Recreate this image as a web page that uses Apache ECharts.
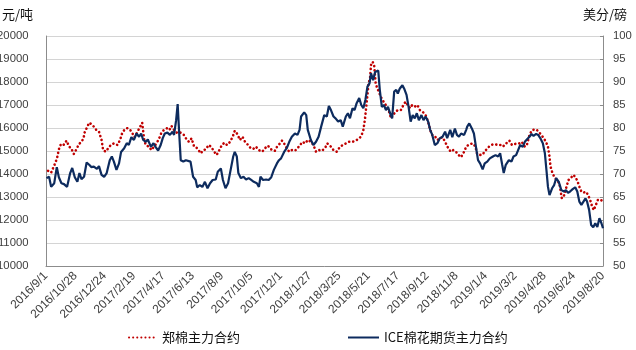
<!DOCTYPE html>
<html>
<head>
<meta charset="utf-8">
<script src="https://cdn.jsdelivr.net/npm/echarts@6/dist/echarts.min.js"></script>
<style>
  html, body { margin: 0; padding: 0; background: #fff; }
  #chart { width: 636px; height: 350px; }
</style>
</head>
<body>
<div id="chart"></div>
<script>
// x positions are day offsets from the first trading date
const startDate = Date.UTC(2016, 8, 1);
const lastDay = 1083;      // 2019/8/20
const labelStepDays = 57;  // spacing of the date labels

// Zhengzhou cotton main contract, yuan/ton (left axis)
const zceDays = [4,10,19,22,25,29,34,40,45,49,54,59,64,69,73,75,79,84,88,93,98,103,108,111,116,121,126,132,139,144,148,153,158,163,168,172,178,183,187,191,194,200,205,210,215,220,224,229,235,240,244,249,254,259,263,268,274,278,283,288,294,301,306,311,316,321,327,332,337,342,347,352,358,363,367,372,377,382,387,393,398,403,408,414,419,424,429,434,439,445,450,455,459,463,468,473,478,484,489,494,499,504,509,515,520,525,531,537,544,547,554,559,565,572,577,583,589,596,602,609,613,617,620,622,624,626,627,630,632,635,638,641,644,647,651,654,659,662,667,671,675,680,684,690,695,699,702,708,712,717,722,727,732,738,743,747,751,756,761,766,771,776,782,787,792,797,802,807,813,817,823,830,835,838,842,848,853,858,863,869,874,879,884,888,892,896,901,906,911,916,920,925,931,935,940,945,948,953,958,963,968,972,976,979,981,984,988,993,998,1003,1008,1012,1016,1020,1025,1029,1033,1037,1041,1045,1050,1054,1058,1062,1065,1069,1073,1077,1081];
const zceYuan = [14140,14060,14530,14750,15070,15300,15260,15450,15190,15120,14870,15070,15300,15400,15550,15800,15990,16230,16170,16060,15910,15840,15480,15040,14970,15120,15260,15330,15260,15480,15770,15940,15990,15940,15770,15600,15840,16060,16230,15480,15260,15190,15040,15190,15330,15550,15770,15910,15990,15910,16090,15910,15800,15840,15770,15700,15480,15400,15550,15190,15120,14900,15040,15070,15260,15190,14970,14830,15040,15260,15360,15260,15400,15620,15880,15740,15480,15620,15400,15260,15120,15090,15190,15040,14970,15040,15220,15190,15040,15010,15220,15330,15450,15330,15120,14970,15040,15010,15120,15260,15400,15330,15480,15400,15260,14970,15040,15010,15190,15330,15190,15040,14970,15190,15260,15330,15400,15400,15450,15550,15650,15910,16350,16780,17220,17650,17940,18160,18740,18880,18740,17940,17730,17580,17360,17220,17070,17000,16710,16420,16570,16710,16780,16780,17000,17140,17070,16860,17000,16930,17000,16780,16710,16570,16270,15910,15700,15650,15480,15550,15600,15400,15120,14970,15040,14970,14830,14730,14970,15190,15290,15330,15190,14900,14830,14830,14970,15120,15220,15290,15290,15260,15260,15190,15260,15360,15450,15260,15300,15330,15330,15400,15190,15260,15700,15910,15990,15940,15840,15700,15550,15400,15190,14750,14320,14100,13880,13740,13600,12940,13090,13450,13740,13810,13960,13880,13710,13450,13230,13190,13230,13090,12870,12580,12430,12650,12870,12900,12840];

// ICE cotton main contract, US cents/lb (right axis)
const iceDays = [1,6,10,16,21,25,30,35,41,47,51,56,61,65,69,74,79,84,88,93,99,103,108,113,118,124,128,132,137,142,146,152,157,161,166,171,176,181,185,189,194,198,204,209,213,218,223,227,231,236,241,246,249,253,256,259,262,267,272,275,281,286,291,294,299,304,309,314,319,324,330,334,340,344,349,354,359,364,367,371,374,379,384,389,394,399,404,410,414,417,422,428,433,438,443,449,453,457,463,468,473,478,484,489,493,496,502,506,509,515,520,525,530,535,541,546,550,554,559,563,568,573,577,583,587,591,596,600,604,609,613,617,621,625,629,632,636,640,643,646,649,653,657,661,665,669,673,677,681,684,688,693,697,701,705,709,713,717,721,725,730,734,738,743,747,751,756,761,766,771,776,780,786,790,795,799,803,807,813,817,819,823,828,832,836,840,844,849,853,858,863,869,874,879,883,887,890,894,900,905,909,914,918,922,927,931,935,940,944,948,953,957,961,966,970,973,976,979,984,988,992,997,1002,1007,1011,1015,1019,1024,1029,1033,1037,1041,1045,1049,1052,1056,1060,1064,1068,1072,1076,1080,1083];
const iceCents = [69.1,69.4,67.2,68.0,71.5,69.3,68.0,67.8,67.2,70.2,71.3,69.3,68.3,70.2,68.9,69.4,72.5,72.0,71.5,71.6,71.1,71.7,69.8,69.4,70.2,73.0,73.8,72.7,70.9,72.3,74.8,75.6,76.7,76.3,78.0,77.4,78.8,78.1,78.8,77.4,77.0,77.5,75.9,76.7,75.9,75.1,76.3,77.8,78.8,79.0,78.5,79.2,78.5,81.7,85.2,78.8,73.0,72.7,73.0,73.0,72.7,69.4,68.7,67.1,67.6,67.2,68.3,66.9,68.0,68.7,68.8,70.5,71.2,68.7,66.9,68.0,70.9,73.8,74.8,73.8,70.2,69.1,69.4,68.8,69.1,68.7,68.3,68.0,67.2,69.4,68.7,68.8,68.7,69.3,70.9,72.3,73.0,73.4,74.8,75.6,77.0,78.1,78.8,78.5,79.6,82.5,83.4,82.8,79.6,77.4,76.3,77.0,78.1,80.3,82.8,82.5,84.8,83.9,82.5,82.1,81.4,81.7,80.3,82.5,83.2,82.1,84.3,83.9,85.4,86.5,85.0,84.3,86.1,89.0,89.7,91.9,90.4,92.2,92.6,92.5,88.3,84.6,85.0,83.9,84.6,83.2,82.1,87.9,88.3,87.5,88.6,89.3,88.4,87.2,84.6,81.4,82.8,82.1,83.2,81.7,82.8,81.7,82.5,81.4,79.6,78.5,76.3,76.7,77.8,78.1,79.2,77.8,79.6,78.0,79.9,78.5,78.1,78.8,78.5,79.6,80.3,81.0,79.9,78.8,75.9,73.0,72.3,71.0,72.3,72.7,73.4,73.8,74.1,73.8,74.5,72.0,70.2,72.0,73.0,72.7,73.8,74.1,75.2,76.3,75.9,77.0,77.5,78.1,78.7,78.3,78.7,78.5,77.8,76.7,74.5,70.9,67.2,65.4,66.9,67.6,69.1,68.3,66.5,66.2,66.5,65.9,66.2,66.7,67.1,66.2,64.0,63.3,64.0,64.7,64.0,62.2,58.9,58.4,59.3,58.5,60.4,59.3,58.2];

const seriesNames = ['郑棉主力合约', 'ICE棉花期货主力合约'];
const axisUnits = ['元/吨', '美分/磅'];

const pair = (xs, ys) => xs.map((x, i) => [x, ys[i]]);

function dayLabel(d) {
  const t = new Date(startDate + d * 86400000);
  return t.getUTCFullYear() + '/' + (t.getUTCMonth() + 1) + '/' + t.getUTCDate();
}

const numFont = '"Liberation Sans", Arial, sans-serif';
const cjkFont = '"Noto Sans CJK SC", "Liberation Sans", sans-serif';
const red = '#c00000';
const navy = '#0d2b5e';

// legend shows only the line sample, no marker
const legendBase = {
  top: 331, padding: 0, itemHeight: 12,
  itemStyle: { opacity: 0 },
  textStyle: { fontSize: 13, color: '#111', fontFamily: cjkFont }
};

const chart = echarts.init(document.getElementById('chart'), null, { renderer: 'canvas' });
chart.setOption({
  animation: false,
  backgroundColor: '#ffffff',
  // fixed plot rectangle; the left value labels are allowed to run off the edge
  grid: { left: 46, right: 33, top: 36, bottom: 84, containLabel: false, outerBoundsMode: 'none' },
  xAxis: {
    type: 'value',
    min: 0,
    max: lastDay,
    interval: labelStepDays,
    axisLine: { show: true, lineStyle: { color: '#8c8c8c', width: 1 } },
    axisTick: { show: false },
    splitLine: { show: false },
    axisLabel: {
      rotate: 45,
      margin: 8,
      formatter: dayLabel,
      color: '#404040',
      fontSize: 12,
      fontFamily: numFont
    }
  },
  yAxis: [
    {
      type: 'value',
      position: 'left',
      min: 10000,
      max: 20000,
      interval: 1000,
      axisLine: { show: true, lineStyle: { color: '#8c8c8c', width: 1 } },
      axisTick: { show: false },
      splitLine: { show: true, lineStyle: { color: '#d4d4d4', width: 1.2 } },
      axisLabel: { margin: 17.5, color: '#404040', fontSize: 11.3, fontFamily: numFont, formatter: v => String(v) }
    },
    {
      type: 'value',
      position: 'right',
      min: 50,
      max: 100,
      interval: 5,
      axisLine: { show: true, lineStyle: { color: '#8c8c8c', width: 1 } },
      axisTick: { show: true, inside: true, length: 3, lineStyle: { color: '#8c8c8c' } },
      splitLine: { show: false },
      axisLabel: { margin: 10, color: '#404040', fontSize: 11.3, fontFamily: numFont, formatter: v => String(v) }
    }
  ],
  legend: [
    Object.assign({ data: [seriesNames[0]], left: 128, itemWidth: 28 }, legendBase),
    Object.assign({ data: [seriesNames[1]], left: 347, itemWidth: 31 }, legendBase)
  ],
  graphic: [
    { type: 'text', x: 2, y: 14, style: { text: axisUnits[0], fill: '#111', font: '13px ' + cjkFont, verticalAlign: 'middle' } },
    { type: 'text', x: 583, y: 14, style: { text: axisUnits[1], fill: '#111', font: '13px ' + cjkFont, verticalAlign: 'middle' } }
  ],
  series: [
    {
      name: seriesNames[0],
      type: 'line',
      yAxisIndex: 0,
      data: pair(zceDays, zceYuan),
      symbol: 'none',
      itemStyle: { color: red },
      lineStyle: { color: red, width: 2.6, type: [0.1, 4], cap: 'round' }
    },
    {
      name: seriesNames[1],
      type: 'line',
      yAxisIndex: 1,
      data: pair(iceDays, iceCents),
      symbol: 'none',
      itemStyle: { color: navy },
      lineStyle: { color: navy, width: 2.2 }
    }
  ]
});
</script>
</body>
</html>
